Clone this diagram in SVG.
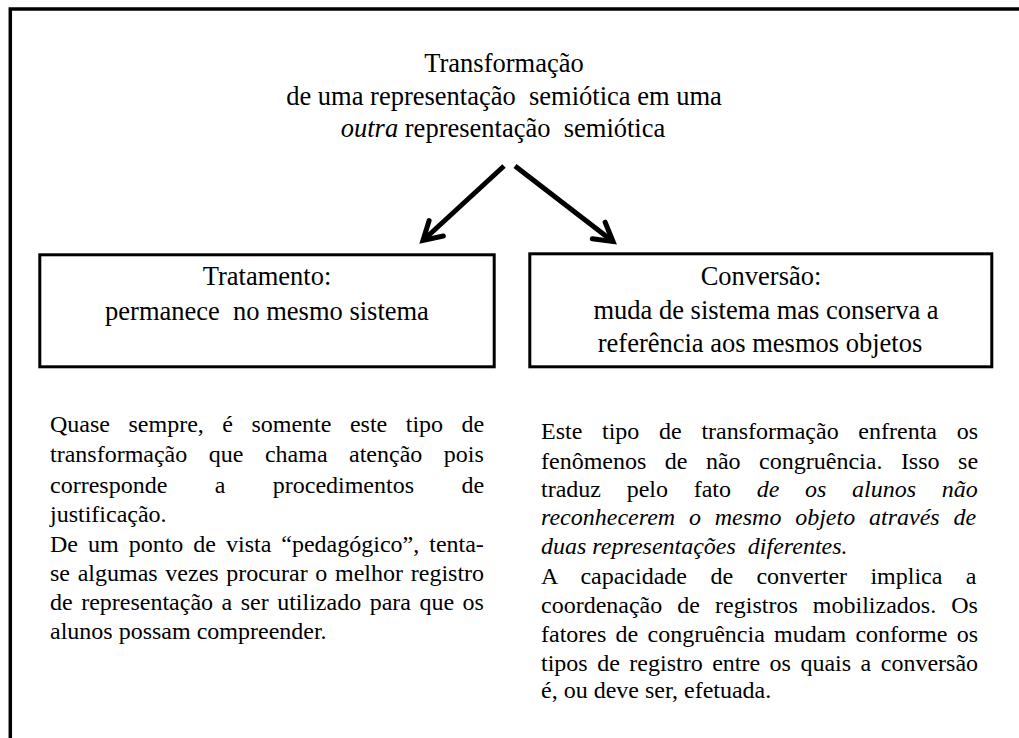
<svg xmlns="http://www.w3.org/2000/svg" width="1019" height="738" viewBox="0 0 1019 738">
<style>
text{font-family:"Liberation Serif","Times New Roman",serif;fill:#000;white-space:pre}
.t{font-size:26.5px;text-anchor:middle}
.p{font-size:24px}
.i{font-style:italic}
.box{fill:none;stroke:#000;stroke-width:3}
.arr{stroke:#000;stroke-width:5;fill:none}
</style>
<defs>
<marker id="ah" markerUnits="userSpaceOnUse" markerWidth="30" markerHeight="30" refX="0" refY="0" viewBox="-22 -15 30 30" orient="auto">
<path d="M-18,-10.5 L0,0 L-18,10.5" fill="none" stroke="#000" stroke-width="5" stroke-linecap="round" stroke-linejoin="miter"/>
</marker>
</defs>
<rect width="1019" height="738" fill="#fff"/>
<path d="M10.3,738 V9 H1019" fill="none" stroke="#000" stroke-width="3.5"/>
<g id="title">
<text class="t" x="504" y="72">Transformação</text>
<text class="t" x="504" y="104.5">de uma representação  semiótica em uma</text>
<text class="t" x="503" y="137"><tspan class="i">outra</tspan> representação  semiótica</text>
</g>
<g id="connectors">
<line class="arr" x1="504" y1="166" x2="423" y2="240.5" marker-end="url(#ah)"/>
<line class="arr" x1="515" y1="166" x2="613" y2="241.5" marker-end="url(#ah)"/>
</g>
<g id="tratamento">
<rect class="box" x="39.8" y="254.8" width="454.4" height="112"/>
<text class="t" x="267" y="285">Tratamento:</text>
<text class="t" x="267" y="320">permanece  no mesmo sistema</text>
</g>
<g id="conversao">
<rect class="box" x="529.8" y="253.8" width="462" height="113"/>
<text class="t" x="761" y="285">Conversão:</text>
<text class="t" x="766" y="319">muda de sistema mas conserva a</text>
<text class="t" x="760" y="352">referência aos mesmos objetos</text>
</g>
<g id="texto-tratamento">
<text class="p" x="50" y="432" word-spacing="12.5">Quase sempre, é somente este tipo de</text>
<text class="p" x="50" y="462" word-spacing="15.5">transformação que chama atenção pois</text>
<text class="p" x="50" y="493" word-spacing="41.4">corresponde a procedimentos de</text>
<text class="p" x="50" y="522">justificação.</text>
<text class="p" x="50" y="552" word-spacing="4">De um ponto de vista “pedagógico”, tenta-</text>
<text class="p" x="50" y="581" word-spacing="1.7">se algumas vezes procurar o melhor registro</text>
<text class="p" x="50" y="610" word-spacing="2.5">de representação a ser utilizado para que os</text>
<text class="p" x="50" y="639">alunos possam compreender.</text>
</g>
<g id="texto-conversao">
<text class="p" x="541" y="439" word-spacing="13.7">Este tipo de transformação enfrenta os</text>
<text class="p" x="541" y="469" word-spacing="12.5">fenômenos de não congruência. Isso se</text>
<text class="p" x="541" y="497" word-spacing="19.7">traduz pelo fato <tspan class="i">de os alunos não</tspan></text>
<text class="p i" x="541" y="525" word-spacing="7.8">reconhecerem o mesmo objeto através de</text>
<text class="p i" x="541" y="554">duas representações  diferentes.</text>
<text class="p" x="541" y="584" word-spacing="17.4">A capacidade de converter implica a</text>
<text class="p" x="541" y="613" word-spacing="9.1">coordenação de registros mobilizados. Os</text>
<text class="p" x="541" y="642" word-spacing="3.3">fatores de congruência mudam conforme os</text>
<text class="p" x="541" y="671" word-spacing="3.5">tipos de registro entre os quais a conversão</text>
<text class="p" x="541" y="698">é, ou deve ser, efetuada.</text>
</g>
</svg>
